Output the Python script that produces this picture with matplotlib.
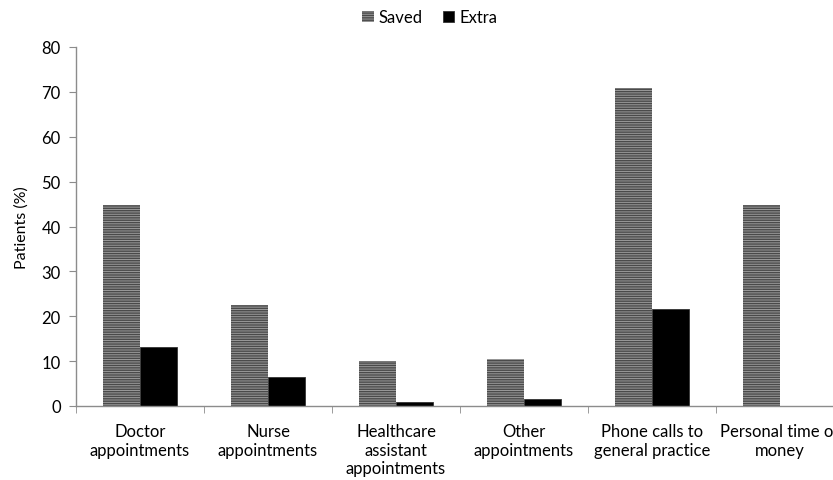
import matplotlib
matplotlib.use("Agg")
import matplotlib.pyplot as plt
import numpy as np

categories = ["Doctor\nappointments", "Nurse\nappointments",
              "Healthcare\nassistant\nappointments", "Other\nappointments",
              "Phone calls to\ngeneral practice", "Personal time or\nmoney"]
saved = [44.8, 22.6, 10.1, 10.4, 70.9, 44.7]
extra = [13.2, 6.5, 0.9, 1.6, 21.6, 0.0]

plt.rcParams['font.family'] = ['Lato', 'DejaVu Sans']
plt.rcParams['hatch.linewidth'] = 1.0

fig = plt.figure(figsize=(8.33, 4.81), dpi=100)
ax = fig.add_axes([76 / 833, 74 / 481, 768 / 833, 359 / 481])

x = np.arange(len(categories))
w = 0.29
axis_col = '#8c8c8c'

ax.bar(x - w / 2, saved, w, color='#9a9a9a', edgecolor='#4a4a4a',
       hatch='-------', linewidth=0, label='Saved')
ax.bar(x + w / 2, extra, w, color='black', edgecolor='#333333',
       linewidth=0.6, label='Extra')

ax.set_xlim(-0.5, len(categories) - 0.5)
ax.set_ylim(0, 80)
ax.set_yticks(range(0, 81, 10))
ax.set_xticks(x)
ax.set_xticklabels(categories, fontsize=12, linespacing=1.22)
ax.set_xticks(np.arange(-0.5, len(categories), 1.0), minor=True)
ax.tick_params(axis='x', which='major', length=0, pad=12)
ax.tick_params(axis='x', which='minor', length=5, color=axis_col, direction='out')
ax.tick_params(axis='y', length=5, color=axis_col, labelsize=12, pad=6)

for s in ['top', 'right']:
    ax.spines[s].set_visible(False)
for s in ['left', 'bottom']:
    ax.spines[s].set_color(axis_col)
    ax.spines[s].set_linewidth(1.0)

ax.set_ylabel("Patients (%)", fontsize=11.5, labelpad=9)

fig.legend(loc='upper center', bbox_to_anchor=(0.516, 1.01), ncol=2,
           frameon=False, fontsize=12, handlelength=0.7, handleheight=0.7,
           handletextpad=0.3, columnspacing=1.2)

fig.savefig("out.png", dpi=100)
